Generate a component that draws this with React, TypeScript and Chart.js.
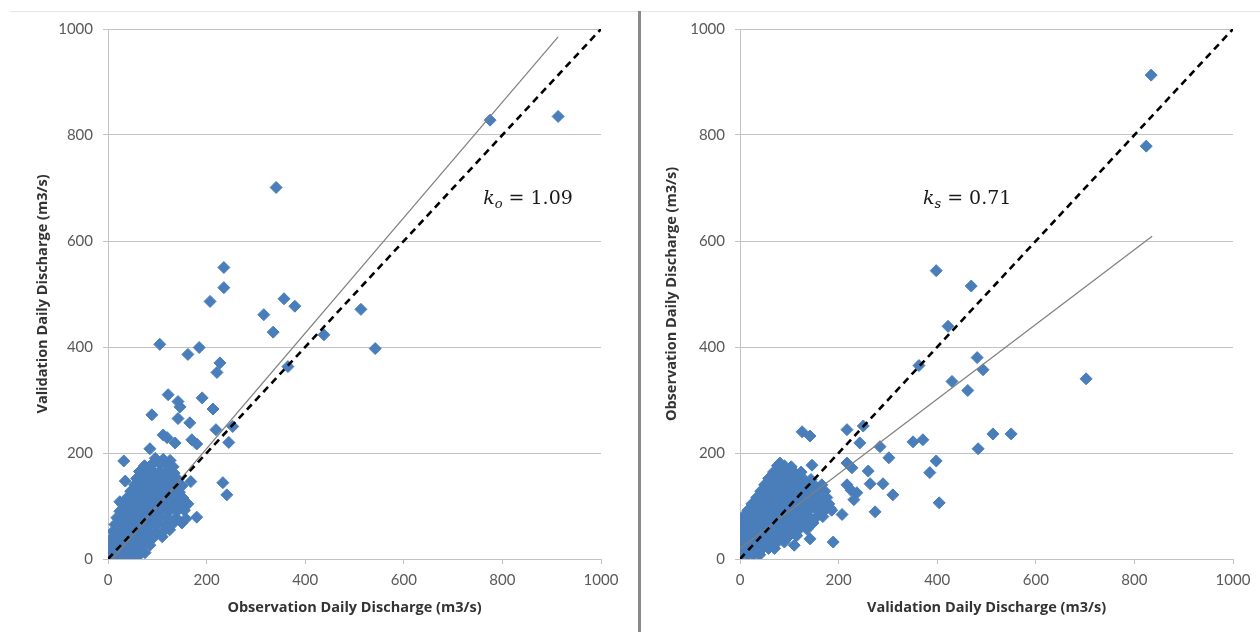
import React, { useEffect, useRef } from "react";
import { Chart, registerables } from "chart.js";

Chart.register(...registerables);

// ---------- data ----------
const axisMin = 0;
const axisMax = 1000;
const axisStep = 200;

// Left panel: Observation (x) vs Validation (y)
const leftCluster: [number, number][] = [
  [4, 5], [14, 5], [28, 5], [42, 5], [55, 3], [62, 6],
  [2, 15], [12, 15], [24, 15], [36, 15], [50, 15], [66, 15], [75, 12],
  [5, 28], [18, 28], [30, 28], [44, 28], [58, 28], [72, 28], [85, 26],
  [8, 40], [20, 40], [34, 40], [48, 40], [62, 40], [76, 40], [92, 40], [110, 42],
  [10, 52], [24, 52], [38, 52], [52, 52], [66, 52], [80, 52], [96, 52], [112, 52], [125, 55],
  [14, 65], [28, 65], [42, 65], [56, 65], [70, 65], [84, 65], [100, 65], [116, 65], [130, 65], [150, 68],
  [18, 78], [32, 78], [46, 78], [60, 78], [74, 78], [90, 78], [104, 78], [120, 78], [138, 78], [158, 76],
  [24, 90], [36, 90], [50, 90], [64, 90], [78, 90], [94, 90], [108, 90], [124, 90], [140, 90], [155, 92],
  [30, 102], [44, 102], [58, 102], [72, 102], [86, 102], [100, 102], [114, 102], [130, 102], [146, 102], [162, 104],
  [38, 115], [52, 115], [66, 115], [80, 115], [94, 115], [108, 115], [122, 115], [138, 115], [152, 115],
  [46, 128], [60, 128], [74, 128], [88, 128], [102, 128], [116, 128], [130, 128], [145, 126],
  [54, 140], [68, 140], [82, 140], [96, 140], [110, 140], [124, 140], [138, 140], [150, 138],
  [58, 152], [72, 152], [86, 152], [100, 152], [114, 152], [128, 152], [142, 150],
  [64, 165], [78, 165], [92, 165], [106, 165], [120, 165], [134, 162],
  [74, 176], [88, 178], [104, 180], [118, 178], [132, 174],
  [96, 190], [112, 188], [126, 186],
];
const leftOutliers: [number, number][] = [
  [913, 835], [775, 828], [341, 701], [235, 550], [235, 512], [207, 486], [316, 461],
  [357, 491], [379, 477], [335, 428], [513, 471], [438, 423], [542, 397], [365, 363],
  [105, 405], [162, 386], [185, 399], [227, 370], [221, 352], [122, 310], [142, 297],
  [146, 287], [191, 304], [89, 272], [213, 283], [142, 265], [166, 257], [219, 244],
  [253, 250], [245, 220], [112, 234], [120, 229], [136, 219], [170, 225], [180, 217],
  [85, 208], [32, 185], [168, 146], [233, 144], [241, 121], [180, 79], [35, 147],
  [24, 108], [105, 181], [120, 178],
];
const leftFit: [number, number][] = [[9, 0], [913, 985]];
const leftLabel = { sub: "o", value: "1.09", x: 761, y: 669 };

// Right panel: Validation (x) vs Observation (y)
const rightCluster: [number, number][] = [
  [4, 8], [16, 8], [28, 8], [40, 8],
  [0, 20], [10, 20], [22, 20], [34, 20], [46, 20], [58, 20], [70, 20],
  [2, 32], [14, 32], [26, 32], [38, 32], [50, 32], [62, 32], [76, 32], [90, 32],
  [0, 44], [12, 44], [24, 44], [36, 44], [48, 44], [60, 44], [72, 44], [86, 44], [100, 44], [115, 44],
  [2, 56], [14, 56], [26, 56], [38, 56], [50, 56], [64, 56], [78, 56], [92, 56], [106, 56], [120, 56], [136, 56],
  [0, 68], [12, 68], [24, 68], [36, 68], [48, 68], [62, 68], [76, 68], [90, 68], [104, 68], [118, 68], [132, 68], [148, 68],
  [6, 80], [18, 80], [30, 80], [42, 80], [56, 80], [70, 80], [84, 80], [98, 80], [112, 80], [126, 80], [140, 80], [156, 80], [168, 80],
  [16, 92], [28, 92], [42, 92], [56, 92], [70, 92], [84, 92], [98, 92], [112, 92], [126, 92], [140, 92], [156, 92], [172, 92], [186, 92],
  [24, 104], [38, 104], [52, 104], [66, 104], [80, 104], [94, 104], [108, 104], [122, 104], [136, 104], [150, 104], [166, 104], [180, 104],
  [34, 116], [48, 116], [62, 116], [76, 116], [90, 116], [104, 116], [118, 116], [132, 116], [146, 116], [160, 116], [176, 116],
  [42, 128], [56, 128], [70, 128], [84, 128], [98, 128], [112, 128], [126, 128], [140, 128], [156, 128], [172, 128],
  [50, 140], [64, 140], [78, 140], [92, 140], [106, 140], [120, 140], [136, 140], [150, 140], [166, 140],
  [58, 152], [72, 152], [86, 152], [100, 152], [114, 152], [128, 152], [144, 150],
  [68, 164], [82, 164], [96, 164], [110, 164], [124, 164],
  [76, 176], [90, 176], [104, 174], [81, 181],
];
const rightOutliers: [number, number][] = [
  [834, 913], [824, 779], [702, 340], [398, 544], [469, 515], [422, 439], [481, 380],
  [493, 357], [430, 335], [462, 318], [363, 365], [550, 236], [513, 236], [483, 208],
  [398, 185], [385, 163], [404, 106], [351, 221], [371, 225], [217, 244], [250, 251],
  [243, 219], [284, 212], [302, 191], [217, 181], [227, 172], [260, 166], [264, 142],
  [290, 142], [310, 121], [217, 140], [225, 130], [231, 112], [274, 89], [207, 84],
  [189, 32], [126, 240], [142, 232], [146, 177], [110, 26], [142, 38], [237, 125],
  [166, 87], [183, 96],
];
const rightFit: [number, number][] = [[0, 20], [836, 609]];
const rightLabel = { sub: "s", value: "0.71", x: 371, y: 669 };

const identityLine: [number, number][] = [[0, 0], [1000, 1000]];

// ---------- styling ----------
const POINT_COLOR = "#4A7EBB";
const GRID_COLOR = "#c3c3c3";
const TICK_COLOR = "#595959";
const TITLE_COLOR = "#333333";
const FONT = "Lato, 'Open Sans', sans-serif";
const TITLE_FONT = "'Open Sans', Lato, sans-serif";

const toXY = (arr: [number, number][]) => arr.map(([x, y]) => ({ x, y }));

const slopeLabelPlugin = {
  id: "slopeLabel",
  afterDatasetsDraw(chart: any, _args: any, opts: any) {
    const a = opts && opts.label;
    if (!a) return;
    const { ctx } = chart;
    const xs = chart.scales.x;
    const ys = chart.scales.y;
    let px = xs.getPixelForValue(a.x);
    const py = ys.getPixelForValue(a.y);
    ctx.save();
    ctx.fillStyle = "#1a1a1a";
    ctx.textAlign = "left";
    ctx.textBaseline = "alphabetic";
    ctx.font = "italic 19px 'DejaVu Serif'";
    ctx.fillText("k", px, py);
    px += ctx.measureText("k").width;
    ctx.font = "italic 13px 'DejaVu Serif'";
    ctx.fillText(a.sub, px, py + 4);
    px += ctx.measureText(a.sub).width;
    ctx.font = "19px 'DejaVu Serif'";
    ctx.fillText(" = " + a.value, px, py);
    ctx.restore();
  },
};

type PanelProps = {
  cluster: [number, number][];
  outliers: [number, number][];
  fit: [number, number][];
  label: { sub: string; value: string; x: number; y: number };
  xTitle: string;
  yTitle: string;
  width: number;
  yAxisWidth: number;
  yTitlePad: number;
  rightPad: number;
};

function Panel(p: PanelProps) {
  const ref = useRef<HTMLCanvasElement | null>(null);
  useEffect(() => {
    if (!ref.current) return;
    const chart = new Chart(ref.current, {
      type: "scatter",
      data: {
        datasets: [
          {
            type: "line",
            data: toXY(identityLine),
            borderColor: "#000000",
            borderWidth: 2.6,
            borderDash: [7, 5],
            pointRadius: 0,
            fill: false,
            order: 0,
          } as any,
          {
            type: "line",
            data: toXY(p.fit),
            borderColor: "#7f7f7f",
            borderWidth: 1.2,
            pointRadius: 0,
            fill: false,
            order: 1,
          } as any,
          {
            data: toXY([...p.cluster, ...p.outliers]),
            pointStyle: "rectRot",
            pointRadius: 6,
            borderWidth: 1,
            backgroundColor: POINT_COLOR,
            borderColor: POINT_COLOR,
            showLine: false,
            order: 2,
          } as any,
        ],
      },
      options: {
        animation: false,
        responsive: false,
        devicePixelRatio: 1,
        layout: { padding: { left: 0, right: p.rightPad, top: 29, bottom: 0 } },
        plugins: {
          legend: { display: false },
          tooltip: { enabled: false },
          slopeLabel: { label: p.label },
        } as any,
        scales: {
          x: {
            type: "linear",
            min: axisMin,
            max: axisMax,
            ticks: {
              stepSize: axisStep,
              color: TICK_COLOR,
              font: { family: FONT, size: 15 },
              padding: 7,
              maxRotation: 0,
              callback: (v: any) => String(v),
            },
            grid: {
              drawOnChartArea: false,
              drawTicks: true,
              tickLength: 5,
              color: GRID_COLOR,
            },
            border: { display: true, color: GRID_COLOR },
            title: {
              display: true,
              text: p.xTitle,
              color: TITLE_COLOR,
              font: { family: TITLE_FONT, size: 14.5, weight: "bold" },
              padding: { top: 0, bottom: 15.3 },
            },
            afterFit: (s: any) => {
              s.height = 73;
            },
          },
          y: {
            type: "linear",
            min: axisMin,
            max: axisMax,
            ticks: {
              stepSize: axisStep,
              color: TICK_COLOR,
              font: { family: FONT, size: 15 },
              padding: 10,
              callback: (v: any) => String(v),
            },
            grid: {
              drawOnChartArea: true,
              drawTicks: true,
              tickLength: 5,
              color: GRID_COLOR,
            },
            border: { display: true, color: GRID_COLOR },
            title: {
              display: true,
              text: p.yTitle,
              color: TITLE_COLOR,
              font: { family: TITLE_FONT, size: 14.5, weight: "bold" },
              padding: { top: p.yTitlePad, bottom: 0 },
            },
            afterFit: (s: any) => {
              s.width = p.yAxisWidth;
            },
          },
        },
      } as any,
      plugins: [slopeLabelPlugin as any],
    });
    return () => chart.destroy();
  }, []);
  return <canvas ref={ref} width={p.width} height={632} style={{ display: "block" }} />;
}

export default function App() {
  return (
    <div
      style={{
        position: "fixed",
        left: 0,
        top: 0,
        width: 1260,
        height: 632,
        background: "#ffffff",
        overflow: "hidden",
      }}
    >
      <div style={{ position: "absolute", left: 10, top: 11, width: 1250, height: 1, background: "#e6e6e6" }} />
      <div style={{ position: "absolute", left: 0, top: 0 }}>
        <Panel
          cluster={leftCluster}
          outliers={leftOutliers}
          fit={leftFit}
          label={leftLabel}
          xTitle="Observation Daily Discharge (m3/s)"
          yTitle="Validation Daily Discharge (m3/s)"
          width={630}
          yAxisWidth={108}
          yTitlePad={34.3}
          rightPad={29}
        />
      </div>
      <div style={{ position: "absolute", left: 642, top: 0 }}>
        <Panel
          cluster={rightCluster}
          outliers={rightOutliers}
          fit={rightFit}
          label={rightLabel}
          xTitle="Validation Daily Discharge (m3/s)"
          yTitle="Observation Daily Discharge (m3/s)"
          width={618}
          yAxisWidth={98}
          yTitlePad={20.9}
          rightPad={27}
        />
      </div>
      <div style={{ position: "absolute", left: 638, top: 11, width: 3, height: 621, background: "#8a8a8a" }} />
    </div>
  );
}
